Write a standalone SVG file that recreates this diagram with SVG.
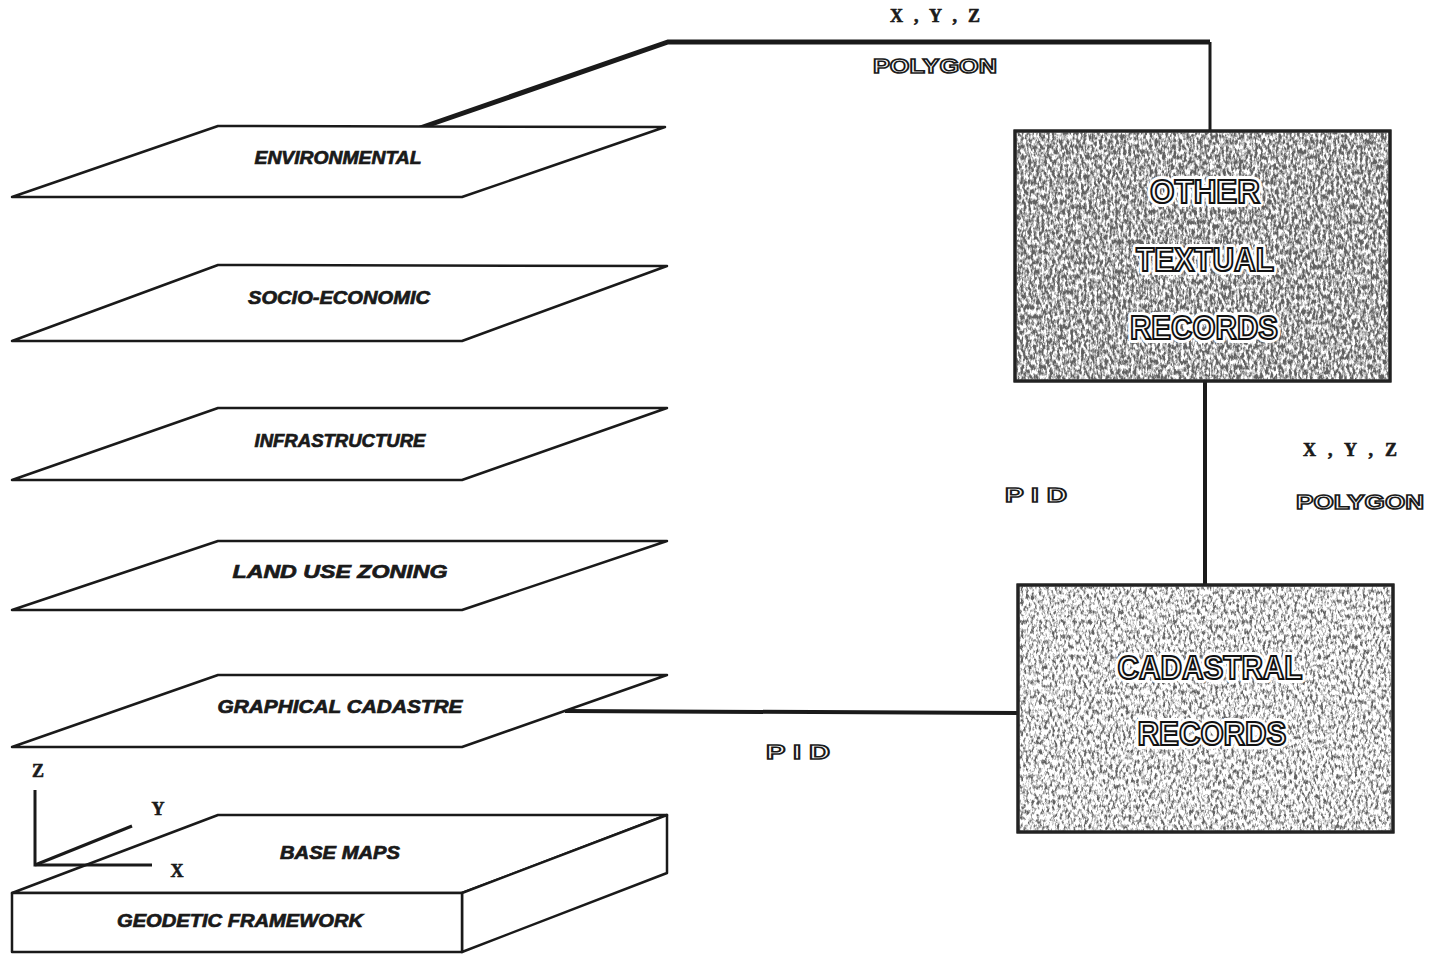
<svg xmlns="http://www.w3.org/2000/svg" width="1429" height="955" viewBox="0 0 1429 955">
<defs>
<filter id="grainDark" x="0" y="0" width="1" height="1" filterUnits="objectBoundingBox">
<feTurbulence type="fractalNoise" baseFrequency="0.38 0.2" numOctaves="3" seed="3" result="n"/>
<feColorMatrix in="n" type="matrix" values="0 0 0 0 0.12  0 0 0 0 0.12  0 0 0 0 0.12  3.4 0 0 0 -1.2"/>
</filter>
<filter id="grainLight" x="0" y="0" width="1" height="1" filterUnits="objectBoundingBox">
<feTurbulence type="fractalNoise" baseFrequency="0.38 0.2" numOctaves="3" seed="7" result="n"/>
<feColorMatrix in="n" type="matrix" values="0 0 0 0 0.12  0 0 0 0 0.12  0 0 0 0 0.12  3.6 0 0 0 -1.6"/>
</filter>
<style>
.layer{fill:#fff;stroke:#1a1a1a;stroke-width:2.5;stroke-linejoin:round}
.lbl{font-family:"Liberation Sans",Arial,sans-serif;font-weight:bold;font-style:italic;font-size:18px;fill:#1a1a1a;stroke:#1a1a1a;stroke-width:0.7;text-anchor:middle}
.box{fill:#fff;stroke:#222;stroke-width:3}
.big{font-family:"Liberation Sans",Arial,sans-serif;font-size:33px;font-weight:bold;fill:#fafafa;stroke:#111;stroke-width:2.1;text-anchor:middle}
.halo{font-family:"Liberation Sans",Arial,sans-serif;font-size:33px;font-weight:bold;fill:#fff;stroke:#fff;stroke-width:8;stroke-linejoin:round;text-anchor:middle}
.outl{font-family:"Liberation Sans",Arial,sans-serif;font-size:21px;font-weight:bold;fill:#fff;stroke:#1a1a1a;stroke-width:1.6;text-anchor:middle}
.coord{font-family:"Liberation Serif","Times New Roman",serif;font-size:18px;font-weight:bold;fill:#1a1a1a;stroke:#1a1a1a;stroke-width:0.6;text-anchor:middle}
.conn{fill:none;stroke:#1a1a1a;stroke-linejoin:miter}
.axis{fill:none;stroke:#1a1a1a;stroke-width:3}
</style>
</defs>
<rect width="1429" height="955" fill="#fff"/>

<g id="connectors">
<polyline class="conn" points="420,128 668,42 1210,42" stroke-width="5"/>
<line class="conn" x1="1210" y1="42" x2="1210" y2="132" stroke-width="3"/>
<line class="conn" x1="1205" y1="381" x2="1205" y2="585" stroke-width="4"/>
<line class="conn" x1="565" y1="711" x2="1018" y2="713" stroke-width="4"/>
<text class="coord" x="935" y="22" textLength="90" lengthAdjust="spacing">X , Y , Z</text>
<text class="outl" x="935" y="73" textLength="124" lengthAdjust="spacingAndGlyphs">POLYGON</text>
<text class="coord" x="1350" y="456" textLength="94" lengthAdjust="spacing">X , Y , Z</text>
<text class="outl" x="1360" y="509" textLength="128" lengthAdjust="spacingAndGlyphs">POLYGON</text>
<text class="outl" x="1036" y="502" textLength="62" lengthAdjust="spacingAndGlyphs">P I D</text>
<text class="outl" x="798" y="759" textLength="64" lengthAdjust="spacingAndGlyphs">P I D</text>
</g>

<g id="environmental">
<polygon class="layer" points="218,126 665,127 462,197 12,197"/>
<text class="lbl" x="338" y="164" textLength="167" lengthAdjust="spacingAndGlyphs">ENVIRONMENTAL</text>
</g>
<g id="socio-economic">
<polygon class="layer" points="218,265 667,266 462,341 12,341"/>
<text class="lbl" x="339" y="304" textLength="182" lengthAdjust="spacingAndGlyphs">SOCIO-ECONOMIC</text>
</g>
<g id="infrastructure">
<polygon class="layer" points="218,408 667,408 462,480 12,480"/>
<text class="lbl" x="340" y="447" textLength="171" lengthAdjust="spacingAndGlyphs">INFRASTRUCTURE</text>
</g>
<g id="land-use-zoning">
<polygon class="layer" points="218,541 667,541 462,610 12,610"/>
<text class="lbl" x="340" y="578" textLength="215" lengthAdjust="spacingAndGlyphs">LAND  USE  ZONING</text>
</g>
<g id="graphical-cadastre">
<polygon class="layer" points="218,675 667,675 462,747 12,747"/>
<text class="lbl" x="340" y="713" textLength="245" lengthAdjust="spacingAndGlyphs">GRAPHICAL    CADASTRE</text>
</g>
<g id="base-maps">
<polygon class="layer" points="218,815 667,815 462,893 12,893"/>
<polygon class="layer" points="462,893 667,815 667,873 462,952"/>
<rect class="layer" x="12" y="893" width="450" height="59"/>
<text class="lbl" x="340" y="859" textLength="120" lengthAdjust="spacingAndGlyphs">BASE  MAPS</text>
<text class="lbl" x="240" y="927" textLength="246" lengthAdjust="spacingAndGlyphs">GEODETIC   FRAMEWORK</text>
</g>
<g id="axes">
<polyline class="axis" points="35,790 35,865 152,865"/>
<line class="axis" x1="35" y1="865" x2="132" y2="826"/>
<text class="coord" x="38" y="777">Z</text>
<text class="coord" x="158" y="815">Y</text>
<text class="coord" x="177" y="877">X</text>
</g>

<g id="other-textual-records">
<rect class="box" x="1015" y="131" width="375" height="250"/>
<rect x="1016" y="132" width="373" height="248" fill="#fff" filter="url(#grainDark)"/>
<rect x="1015" y="131" width="375" height="250" fill="none" stroke="#222" stroke-width="3"/>
<text class="halo" x="1205" y="203" textLength="110" lengthAdjust="spacingAndGlyphs">OTHER</text>
<text class="halo" x="1205" y="271" textLength="138" lengthAdjust="spacingAndGlyphs">TEXTUAL</text>
<text class="halo" x="1204" y="339" textLength="148" lengthAdjust="spacingAndGlyphs">RECORDS</text>
<text class="big" x="1205" y="203" textLength="110" lengthAdjust="spacingAndGlyphs">OTHER</text>
<text class="big" x="1205" y="271" textLength="138" lengthAdjust="spacingAndGlyphs">TEXTUAL</text>
<text class="big" x="1204" y="339" textLength="148" lengthAdjust="spacingAndGlyphs">RECORDS</text>
</g>

<g id="cadastral-records">
<rect class="box" x="1018" y="585" width="375" height="247"/>
<rect x="1019" y="586" width="373" height="245" fill="#fff" filter="url(#grainLight)"/>
<rect x="1018" y="585" width="375" height="247" fill="none" stroke="#222" stroke-width="3"/>
<text class="halo" x="1210" y="679" textLength="185" lengthAdjust="spacingAndGlyphs">CADASTRAL</text>
<text class="halo" x="1212" y="745" textLength="149" lengthAdjust="spacingAndGlyphs">RECORDS</text>
<text class="big" x="1210" y="679" textLength="185" lengthAdjust="spacingAndGlyphs">CADASTRAL</text>
<text class="big" x="1212" y="745" textLength="149" lengthAdjust="spacingAndGlyphs">RECORDS</text>
</g>
</svg>
